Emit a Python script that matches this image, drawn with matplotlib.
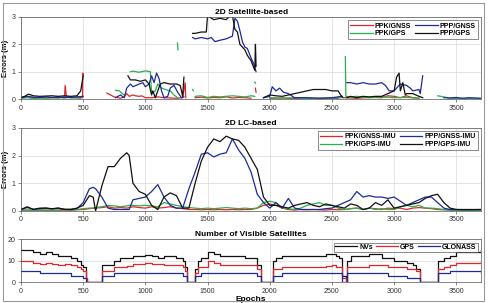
import numpy as np
import matplotlib
matplotlib.use('Agg')
import matplotlib.pyplot as plt
from matplotlib.patches import Rectangle

plt.rcParams['font.family'] = ['Liberation Sans', 'DejaVu Sans']
plt.rcParams['font.size'] = 5

nan = np.nan
RED, BLUE, GREEN, BLACK = '#e3262b', '#1b2a9c', '#27b24a', '#111111'

# ---- panel 1: 2D satellite-based errors (m) ----
sat_ppk_gnss_x = [0, 50, 100, 150, 200, 250, 300, 350, 355, 365, 400, 450, 495, 497, 500, 501,
                  690, 720, 750, 780, 800, 830, 850, 870, 900, 920, 950, 970, 1000, 1050, 1100, 1150,
                  1200, 1250, 1300, 1320, 1325, 1326,
                  1400, 1450, 1500, 1550, 1600, 1650, 1700, 1750, 1800, 1850, 1851, 1885, 1890, 1891,
                  2000, 2100, 2200, 2300, 2400, 2500, 2550, 2551,
                  2600, 2700, 2800, 2900, 2950, 3000, 3050, 3100, 3150, 3200]
sat_ppk_gnss_y = [0.05, 0.08, 0.05, 0.06, 0.04, 0.05, 0.06, 0.05, 0.5, 0.1, 0.05, 0.06, 0.05, 0.95, 0.9, nan,
                  0.22, 0.15, 0.08, 0.05, 0.03, 0.08, 0.2, 0.1, 0.15, 0.12, 0.1, 0.12, 0.05, 0.05, 0.08, 0.05,
                  0.04, 0.03, 0.05, 0.6, 0.05, nan,
                  0.05, 0.07, 0.04, 0.06, 0.05, 0.08, 0.04, 0.06, 0.05, 0.03, nan, 0.4, 0.25, nan,
                  0.03, 0.04, 0.02, 0.03, 0.02, 0.03, 0.02, nan,
                  0.05, 0.03, 0.06, 0.05, 0.12, 0.1, 0.05, 0.12, 0.05, 0.03]

sat_ppk_gps_x = [0, 50, 100, 150, 200, 250, 300, 350, 400, 450, 480, 481,
                 760, 790, 810, 830, 831, 880, 900, 950, 1000, 1040, 1050, 1080, 1100, 1130, 1160, 1200,
                 1230, 1260, 1261, 1258, 1262, 1263, 1380, 1386, 1387,
                 1400, 1450, 1500, 1550, 1600, 1650, 1700, 1750, 1800, 1850, 1880, 1881, 1880, 1886, 1887,
                 2000, 2100, 2200, 2300, 2400, 2500, 2580, 2581,
                 2608, 2612, 2650, 2700, 2800, 2900, 3000, 3100, 3200, 3201,
                 3350, 3400, 3450, 3500, 3600, 3700]
sat_ppk_gps_y = [0.03, 0.05, 0.02, 0.04, 0.03, 0.05, 0.03, 0.1, 0.05, 0.04, 0.03, nan,
                 0.32, 0.3, 0.22, 0.15, nan, 1.0, 1.02, 0.98, 1.03, 1.0, 0.2, 0.3, 0.55, 0.4, 0.35, 0.3,
                 0.15, 0.05, nan, 2.05, 1.8, nan, 0.35, 0.3, nan,
                 0.1, 0.12, 0.06, 0.1, 0.08, 0.1, 0.12, 0.1, 0.08, 0.12, 0.1, nan, 0.62, 0.58, nan,
                 0.05, 0.03, 0.05, 0.02, 0.03, 0.04, 0.05, nan,
                 1.55, 0.1, 0.08, 0.1, 0.05, 0.08, 0.05, 0.06, 0.03, nan,
                 0.12, 0.08, 0.03, 0.02, 0.02, 0.02]

sat_ppp_gnss_x = [0, 50, 100, 150, 200, 250, 300, 350, 400, 450, 500, 501,
                  760, 800, 830, 850, 880, 900, 950, 980, 1000, 1030, 1050, 1070, 1090, 1110, 1130,
                  1150, 1180, 1200, 1230, 1260, 1290, 1310, 1311,
                  1380, 1400, 1450, 1500, 1530, 1560, 1600, 1650, 1700, 1720, 1740, 1760, 1780, 1800,
                  1820, 1850, 1870, 1890, 1891,
                  1950, 2000, 2020, 2050, 2080, 2110, 2150, 2200, 2300, 2400, 2500, 2580, 2581,
                  2620, 2650, 2700, 2750, 2800, 2850, 2900, 2930, 2960, 3000, 3050, 3100, 3130, 3150,
                  3200, 3210, 3230, 3231,
                  3400, 3450, 3500, 3550, 3600, 3650, 3700]
sat_ppp_gnss_y = [0.05, 0.1, 0.07, 0.05, 0.08, 0.06, 0.07, 0.05, 0.06, 0.08, 0.1, nan,
                  0.05, 0.15, 0.05, 0.4, 0.55, 0.45, 0.55, 0.6, 0.45, 0.55, 0.85, 0.6, 0.95, 0.75, 0.3,
                  0.05, 0.1, 0.4, 0.5, 0.25, 0.05, 0.08, nan,
                  2.25, 2.2, 2.25, 2.2, 2.25, 2.1, 2.15, 2.2, 2.3, 2.95, 2.85, 2.5, 2.1, 1.9,
                  1.85, 1.5, 1.3, 1.0, nan,
                  0.05, 0.1, 0.45, 0.3, 0.4, 0.25, 0.2, 0.05, 0.05, 0.03, 0.05, 0.1, nan,
                  0.6, 0.6, 0.55, 0.6, 0.55, 0.55, 0.6, 0.5, 0.3, 0.3, 0.55, 0.5, 0.4, 0.3,
                  0.35, 0.2, 0.85, nan,
                  0.05, 0.04, 0.06, 0.03, 0.05, 0.04, 0.03]

sat_ppp_gps_x = [0, 30, 60, 100, 150, 200, 250, 300, 350, 400, 450, 480, 500, 501,
                 860, 880, 920, 960, 1000, 1030, 1050, 1060, 1080, 1100, 1120, 1150, 1200, 1250,
                 1280, 1300, 1310, 1311,
                 1380, 1400, 1450, 1490, 1500, 1550, 1600, 1650, 1680, 1700, 1720, 1740, 1760,
                 1800, 1820, 1850, 1880, 1885, 1890, 1891,
                 1950, 2000, 2050, 2100, 2150, 2200, 2250, 2300, 2350, 2400, 2450, 2500, 2550,
                 2570, 2590, 2591,
                 2620, 2650, 2700, 2750, 2800, 2850, 2900, 2950, 3000, 3020, 3040, 3050, 3070,
                 3090, 3100, 3150, 3200, 3230]
sat_ppp_gps_y = [0.06, 0.1, 0.18, 0.12, 0.1, 0.11, 0.12, 0.1, 0.12, 0.1, 0.12, 0.3, 0.85, nan,
                 0.85, 0.7, 0.7, 0.65, 0.7, 0.55, 0.15, 0.3, 0.05, 0.3, 0.55, 0.6, 0.55, 0.55,
                 0.5, 0.1, 0.8, nan,
                 2.4, 2.4, 2.45, 2.45, 3.05, 2.9, 2.95, 2.9, 3.05, 3.05, 2.55, 2.45, 2.0,
                 1.8, 1.6, 1.4, 1.05, 2.0, 1.2, nan,
                 0.05, 0.15, 0.12, 0.1, 0.15, 0.2, 0.25, 0.3, 0.35, 0.35, 0.35, 0.3, 0.3,
                 0.15, 0.05, nan,
                 0.05, 0.1, 0.05, 0.1, 0.08, 0.1, 0.1, 0.2, 0.3, 0.8, 0.95, 0.3, 0.6,
                 0.15, 0.2, 0.2, 0.1, 0.05]

# ---- panel 2: 2D LC-based errors (m) ----
lc_x = [0, 50, 100, 150, 200, 250, 300, 350, 400, 450, 500, 550, 580, 600, 650, 700, 750, 800,
        850, 870, 900, 950, 1000, 1050, 1100, 1150, 1200, 1250, 1300, 1350, 1400, 1450, 1500,
        1550, 1600, 1650, 1700, 1750, 1800, 1850, 1900, 1950, 2000, 2050, 2100, 2150, 2200,
        2250, 2300, 2350, 2400, 2450, 2500, 2550, 2600, 2650, 2700, 2750, 2800, 2850, 2900,
        2950, 3000, 3050, 3100, 3150, 3200, 3250, 3300, 3350, 3400, 3450, 3500, 3600, 3700]
lc_ppp_gps_y = [0.05, 0.15, 0.05, 0.1, 0.1, 0.08, 0.1, 0.06, 0.05, 0.1, 0.2, 0.55, 0.5, 0.0,
                0.9, 1.6, 1.6, 1.9, 2.1, 2.0, 1.0, 0.7, 0.6, 0.2, 0.05, 0.5, 0.65, 0.55, 0.1,
                0.1, 1.0, 1.8, 2.3, 2.6, 2.5, 2.7, 2.6, 2.55, 2.3, 1.9, 1.5, 0.5, 0.2, 0.2,
                0.15, 0.1, 0.2, 0.25, 0.3, 0.2, 0.15, 0.25, 0.2, 0.15, 0.1, 0.25, 0.2, 0.05,
                0.1, 0.3, 0.2, 0.4, 0.1, 0.15, 0.2, 0.25, 0.3, 0.45, 0.55, 0.6, 0.3, 0.1, 0.05,
                0.05, 0.05]
lc_ppp_gnss_y = [0.05, 0.12, 0.06, 0.08, 0.1, 0.07, 0.1, 0.05, 0.06, 0.08, 0.3, 0.8, 0.85, 0.8,
                 0.5, 0.1, 0.05, 0.05, 0.05, 0.05, 0.4, 0.45, 0.5, 0.7, 0.95, 0.5, 0.2, 0.1, 0.1,
                 0.8, 1.4, 2.05, 2.1, 1.95, 2.05, 2.1, 2.6, 2.2, 1.9, 1.4, 0.6, 0.3, 0.1, 0.3,
                 0.1, 0.45, 0.1, 0.05, 0.05, 0.05, 0.05, 0.08, 0.1, 0.2, 0.3, 0.4, 0.7, 0.5,
                 0.55, 0.5, 0.5, 0.45, 0.5, 0.35, 0.2, 0.3, 0.4, 0.5, 0.5, 0.3, 0.1, 0.05, 0.05,
                 0.04, 0.05]
lc_ppk_gps_y = [0.02, 0.03, 0.02, 0.04, 0.03, 0.02, 0.03, 0.05, 0.03, 0.05, 0.08, 0.1, 0.1, 0.12,
                0.15, 0.2, 0.18, 0.15, 0.18, 0.2, 0.2, 0.18, 0.2, 0.18, 0.15, 0.3, 0.25, 0.2,
                0.15, 0.12, 0.1, 0.08, 0.1, 0.08, 0.1, 0.12, 0.1, 0.08, 0.1, 0.08, 0.1, 0.3,
                0.35, 0.3, 0.1, 0.08, 0.05, 0.1, 0.2, 0.25, 0.3, 0.2, 0.2, 0.1, 0.05, 0.08, 0.1,
                0.05, 0.1, 0.05, 0.08, 0.05, 0.05, 0.15, 0.2, 0.15, 0.2, 0.1, 0.1, 0.08, 0.05,
                0.03, 0.02, 0.02, 0.02]
lc_ppk_gnss_y = [0.02, 0.03, 0.02, 0.03, 0.02, 0.03, 0.02, 0.03, 0.02, 0.04, 0.05, 0.08, 0.1,
                 0.1, 0.12, 0.15, 0.1, 0.12, 0.1, 0.12, 0.15, 0.12, 0.1, 0.15, 0.1, 0.12, 0.15,
                 0.1, 0.08, 0.05, 0.05, 0.04, 0.05, 0.04, 0.05, 0.04, 0.05, 0.04, 0.05, 0.05,
                 0.1, 0.2, 0.25, 0.2, 0.1, 0.05, 0.03, 0.05, 0.04, 0.05, 0.04, 0.03, 0.05, 0.04,
                 0.05, 0.08, 0.1, 0.05, 0.1, 0.08, 0.05, 0.1, 0.08, 0.1, 0.05, 0.1, 0.12, 0.1,
                 0.08, 0.05, 0.04, 0.03, 0.02, 0.02, 0.02]

# ---- panel 3: number of visible satellites ----
nv_x = [0, 100, 150, 200, 250, 300, 350, 400, 450, 480, 500, 520, 530, 650, 740, 750, 800,
        850, 900, 950, 1000, 1050, 1100, 1150, 1200, 1250, 1300, 1320, 1335, 1370, 1400, 1420,
        1450, 1500, 1550, 1600, 1700, 1800, 1850, 1900, 1930, 2000, 2030, 2050, 2100, 2200,
        2300, 2400, 2450, 2500, 2530, 2560, 2580, 2610, 2620, 2650, 2700, 2800, 2850, 2900,
        2950, 3000, 3050, 3100, 3150, 3180, 3210, 3330, 3350, 3400, 3450, 3500, 3550, 3700]
nvs = [15, 14, 13, 14, 13, 12, 12, 11, 10, 8, 7, 2, 0, 8, 8, 10, 11, 11, 12, 12, 12.5, 12, 11,
       12, 12, 11, 10, 7, 0, 0, 6, 10, 11, 14, 13, 12, 12, 11, 11, 8, 0, 0, 10, 11, 12, 12, 12,
       12, 13, 13, 12, 11, 3, 0, 10, 12, 12, 13, 13, 11, 11, 10, 10, 9, 8, 6, 0, 0, 10, 11, 12,
       14, 14, 15]
gps = [10, 9, 8.5, 9, 8.5, 8, 8.5, 8, 7, 6, 5, 2, 0, 5, 5, 7, 7, 7.5, 8.5, 8.5, 9, 8.5, 8.5,
       8, 8, 8, 7, 5, 0, 0, 4, 7, 7, 10, 9, 8, 8, 8, 8, 6, 0, 0, 6, 6, 7, 7, 7, 7, 7.5, 8, 7,
       7, 2, 0, 7, 7, 7, 8, 8, 8, 7, 7, 7, 6, 6, 5, 0, 0, 6, 7, 8, 9, 9, 10]
glonass = [5, 5, 4, 4, 4, 4, 4, 3, 3, 3, 2, 0, 0, 3, 3, 4, 4, 4, 4, 4, 4, 4, 4, 4, 4, 4, 3, 3,
           0, 0, 3, 3, 4, 4, 4, 4, 4, 4, 4, 3, 0, 0, 3, 3, 4, 4, 4, 4, 4, 4, 4, 4, 0, 0, 4, 4, 4,
           4, 4, 4, 3, 3, 3, 2, 2, 2, 0, 0, 4, 4, 5, 5, 5, 4]

fig = plt.figure(figsize=(4.88, 3.03), dpi=100)
fig.patches.append(Rectangle((0.006, 0.006), 0.986, 0.984, transform=fig.transFigure,
                             fill=False, edgecolor='#9a9a9a', linewidth=0.8))

ax1 = fig.add_axes([0.043, 0.673, 0.943, 0.271])
ax2 = fig.add_axes([0.043, 0.304, 0.943, 0.274])
ax3 = fig.add_axes([0.043, 0.069, 0.943, 0.142])

lw = 0.9
ax1.plot(sat_ppk_gnss_x, sat_ppk_gnss_y, color=RED, lw=lw, label='PPK/GNSS')
ax1.plot(sat_ppk_gps_x, sat_ppk_gps_y, color=GREEN, lw=lw, label='PPK/GPS')
ax1.plot(sat_ppp_gnss_x, sat_ppp_gnss_y, color=BLUE, lw=lw, label='PPP/GNSS')
ax1.plot(sat_ppp_gps_x, sat_ppp_gps_y, color=BLACK, lw=lw, label='PPP/GPS')
ax1.set_title('2D Satellite-based', fontsize=6, fontweight='bold', pad=2)

ax2.plot(lc_x, lc_ppk_gnss_y, color=RED, lw=lw, label='PPK/GNSS-IMU')
ax2.plot(lc_x, lc_ppk_gps_y, color=GREEN, lw=lw, label='PPK/GPS-IMU')
ax2.plot(lc_x, lc_ppp_gnss_y, color=BLUE, lw=lw, label='PPP/GNSS-IMU')
ax2.plot(lc_x, lc_ppp_gps_y, color=BLACK, lw=lw, label='PPP/GPS-IMU')
ax2.set_title('2D LC-based', fontsize=6, fontweight='bold', pad=2)

ax3.plot(nv_x, nvs, color=BLACK, lw=lw, drawstyle='steps-post', label='NVs')
ax3.plot(nv_x, gps, color=RED, lw=lw, drawstyle='steps-post', label='GPS')
ax3.plot(nv_x, glonass, color=BLUE, lw=lw, drawstyle='steps-post', label='GLONASS')
ax3.set_title('Number of Visible Satellites', fontsize=6, fontweight='bold', pad=2)
ax3.set_xlabel('Epochs', fontsize=6, fontweight='bold', labelpad=1)

for ax in (ax1, ax2):
    ax.set_ylim(0, 3)
    ax.set_yticks([0, 1, 2, 3])
    ax.set_ylabel('Errors (m)', fontsize=5.5, fontweight='bold', labelpad=2)
    ax.legend(loc='upper right', ncol=2, fontsize=5, frameon=True, fancybox=False,
              edgecolor='#333333', handlelength=3.2, borderpad=0.3, labelspacing=0.1,
              columnspacing=0.6, handletextpad=0.3,
              prop={'weight': 'bold', 'size': 5}).get_frame().set_linewidth(0.5)
ax3.set_ylim(0, 20)
ax3.set_yticks([0, 10, 20])
ax3.legend(loc='upper right', ncol=3, frameon=True, fancybox=False, edgecolor='#333333',
           handlelength=3.2, borderpad=0.2, columnspacing=0.4, handletextpad=0.3,
           prop={'weight': 'bold', 'size': 5}).get_frame().set_linewidth(0.5)

for ax in (ax1, ax2, ax3):
    ax.set_xlim(0, 3700)
    ax.set_xticks([0, 500, 1000, 1500, 2000, 2500, 3000, 3500])
    ax.grid(True, color='#d9d9d9', linewidth=0.5)
    ax.tick_params(labelsize=5, length=2, width=0.4, pad=2, colors='#333333')
    for s in ax.spines.values():
        s.set_linewidth(0.5)
        s.set_color('#555555')

fig.savefig('out.png', dpi=100)
